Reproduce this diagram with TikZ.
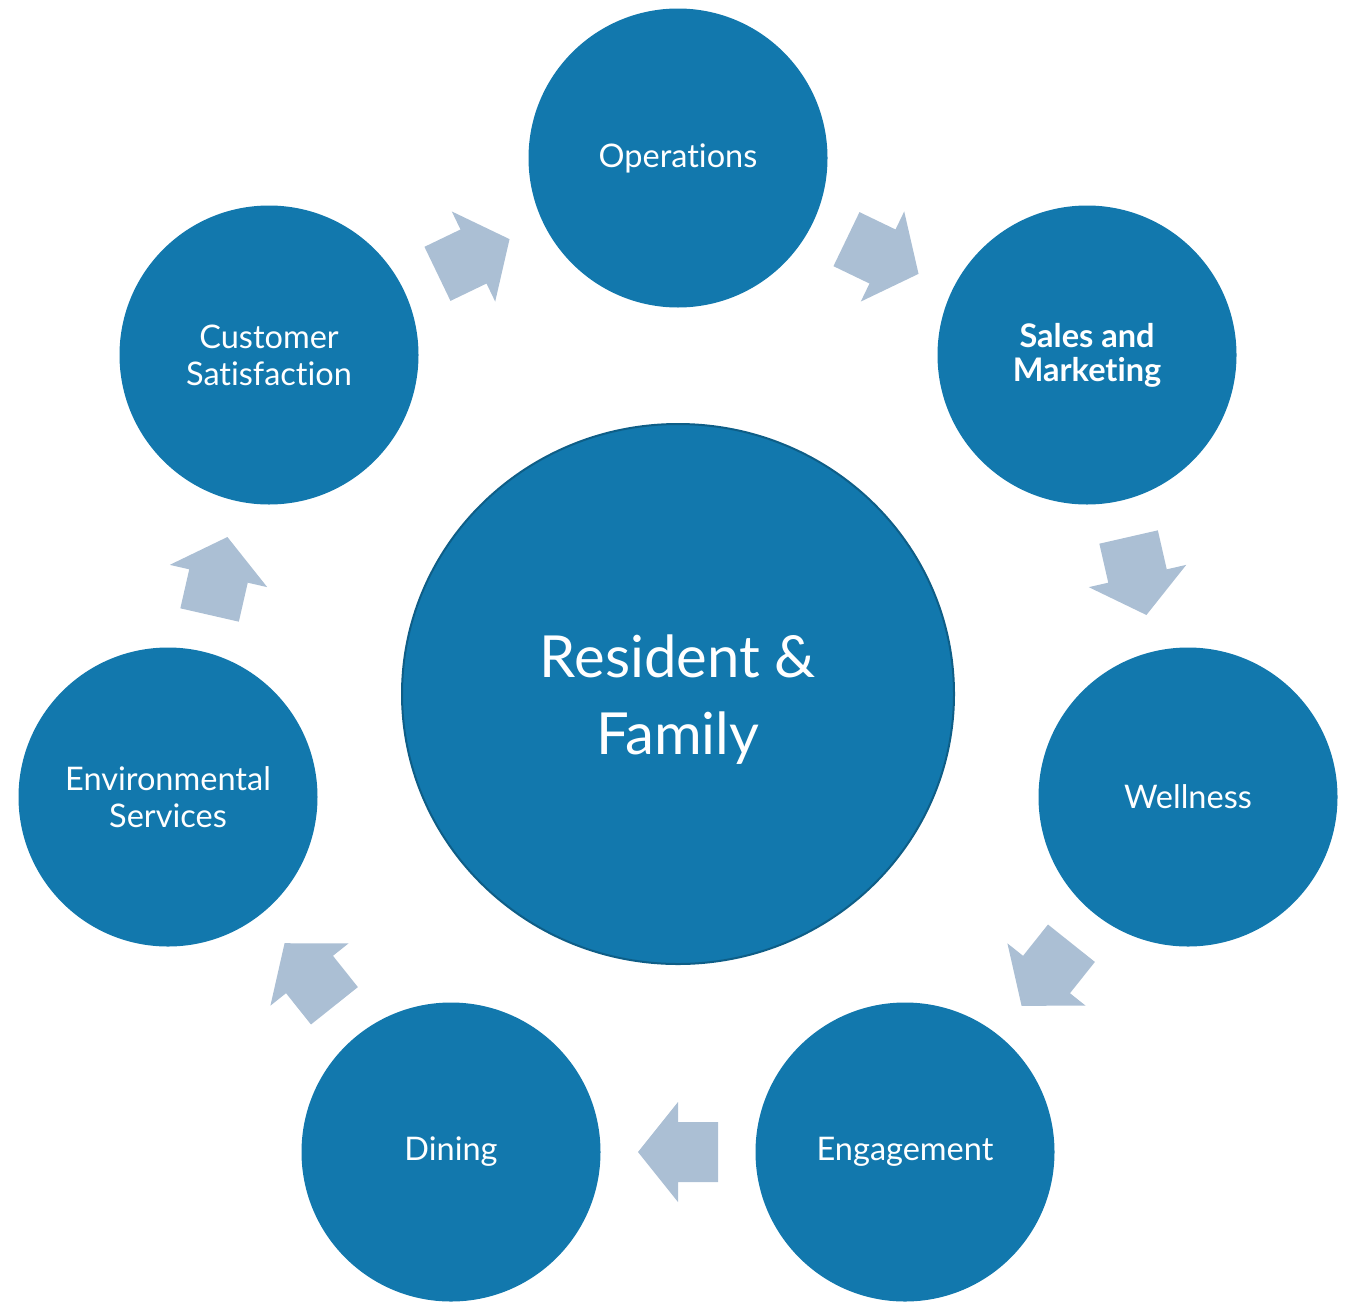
\documentclass[tikz,border=0pt]{standalone}
\usepackage{fontspec}
\setmainfont[Ligatures=NoCommon]{Lato}
\usetikzlibrary{calc,shapes.geometric}
\definecolor{discblue}{RGB}{18,120,173}
\definecolor{rimblue}{RGB}{14,94,135}
\definecolor{flowgrey}{RGB}{171,191,212}
\tikzset{
  disc/.style={circle, fill=discblue, minimum size=299pt, inner sep=0pt,
    text=white, align=center, font=\fontsize{32.5}{37}\selectfont},
  hub/.style={ellipse, fill=discblue, draw=rimblue, line width=2pt,
    minimum width=552pt, minimum height=540pt, inner sep=0pt},
  hubtext/.style={text=white, align=center, inner sep=0pt,
    font=\fontsize{58}{77}\selectfont},
  flow/.style={fill=flowgrey}
}
\begin{document}
\begin{tikzpicture}[x=1pt, y=-1pt]
  \useasboundingbox (0,0) rectangle (1348,1301);
  % centre
  \node[hub, label={[hubtext, yshift=-6pt]center:{Resident \&\\Family}}]
    (rf) at (678,694) {};
  % ring of departments
  \node[disc] (op) at (678,158)  {Operations};
  \node[disc] (sm) at (1087,355) {\textbf{Sales and}\\[-3pt]\textbf{Marketing}};
  \node[disc] (we) at (1188,797) {Wellness};
  \node[disc] (en) at (905,1152) {Engagement};
  \node[disc] (di) at (451,1152) {Dining};
  \node[disc] (es) at (168,797)  {Environmental\\Services};
  \node[disc] (cs) at (269,355)  {Customer\\Satisfaction};
  % block arrows halfway between neighbours, pointing along the cycle
  \foreach \a/\b in {cs/op, op/sm, sm/we, we/en, en/di, di/es, es/cs}{
    \path let \p1=(\a.center), \p2=(\b.center),
              \n1={atan2(\y2-\y1,\x2-\x1)} in
      [flow, shift={($(\p1)!0.5!(\p2)$)}, rotate=\n1]
      (-40,-30) -- (0,-30) -- (0,-50) -- (40,0) -- (0,50) -- (0,30)
      -- (-40,30) -- cycle;
  }
\end{tikzpicture}
\end{document}
